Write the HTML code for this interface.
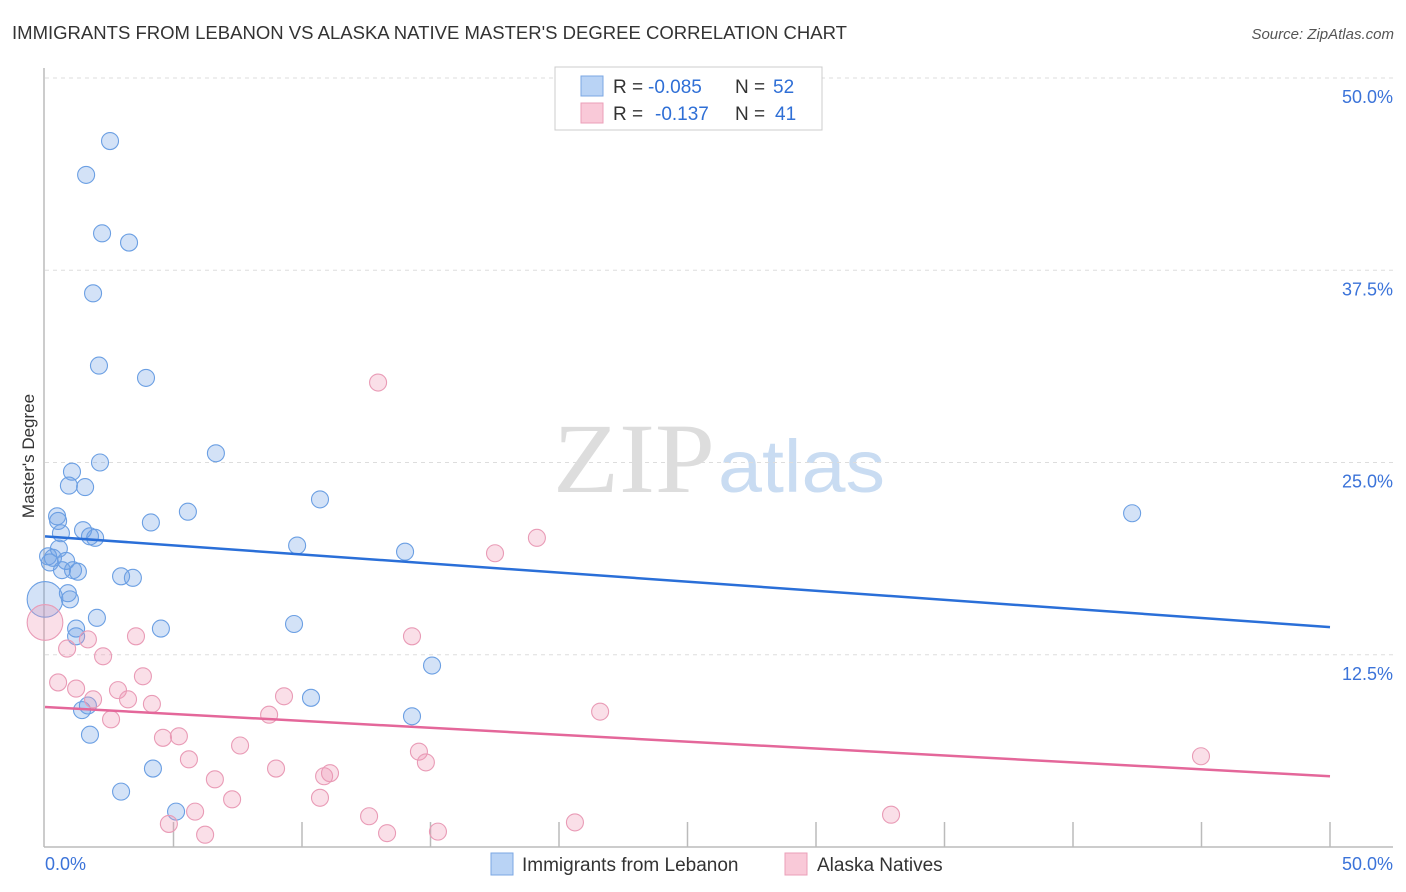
<!DOCTYPE html>
<html><head><meta charset="utf-8"><style>
body{margin:0;background:#fff;font-family:"Liberation Sans",sans-serif;}
#wrap{position:relative;width:1406px;height:892px;overflow:hidden;}
</style></head><body>
<div id="wrap">
<svg id="svg" width="1406" height="892" xmlns="http://www.w3.org/2000/svg">
<text x="12" y="39" font-size="18" fill="#333" textLength="835" lengthAdjust="spacingAndGlyphs">IMMIGRANTS FROM LEBANON VS ALASKA NATIVE MASTER'S DEGREE CORRELATION CHART</text>
<text x="1394" y="39" font-size="15" fill="#555" font-style="italic" text-anchor="end">Source: ZipAtlas.com</text>
<text x="34" y="456" font-size="17" fill="#333" text-anchor="middle" transform="rotate(-90 34 456)">Master's Degree</text>
<g>
<text x="553" y="492" font-size="100" font-family="Liberation Serif,serif" fill="#ddd" textLength="162" lengthAdjust="spacingAndGlyphs">ZIP</text>
<text x="718" y="492" font-size="74" fill="#c9dcf2" textLength="167" lengthAdjust="spacingAndGlyphs">atlas</text>
</g>
<g id="grid"></g><g id="axes"></g><g id="pts"></g><g id="lines"></g>
<g>
<rect x="555" y="67" width="267" height="63" fill="#fff" stroke="#ccc"/>
<rect x="581" y="76" width="22" height="20" fill="#b9d3f5" stroke="#7ba7e3"/>
<rect x="581" y="103" width="22" height="20" fill="#f9c9d8" stroke="#eb9fb8"/>
<g font-size="19">
<text x="613" y="93" fill="#333">R =</text><text x="648" y="93" fill="#2f6fd6">-0.085</text>
<text x="735" y="93" fill="#333">N =</text><text x="773" y="93" fill="#2f6fd6">52</text>
<text x="613" y="120" fill="#333">R =</text><text x="655" y="120" fill="#2f6fd6">-0.137</text>
<text x="735" y="120" fill="#333">N =</text><text x="775" y="120" fill="#2f6fd6">41</text>
</g>
</g>
<g>
<rect x="491" y="853" width="22" height="22" fill="#b9d3f5" stroke="#7ba7e3"/>
<text x="522" y="871" font-size="19" fill="#333">Immigrants from Lebanon</text>
<rect x="785" y="853" width="22" height="22" fill="#f9c9d8" stroke="#eb9fb8"/>
<text x="817" y="871" font-size="19" fill="#333">Alaska Natives</text>
</g>
</svg>
</div>
<script>
const yTicks=[0,12.5,25,37.5,50];
const yTickLabels=["","12.5%","25.0%","37.5%","50.0%"];
const xTicks=[0,5,10,15,20,25,30,35,40,45,50];
const blueX=[2.53,1.60,2.22,3.27,1.87,2.10,3.93,6.65,2.14,1.05,0.93,1.56,5.56,10.70,42.30,0.47,0.51,4.12,1.48,0.62,1.75,1.95,9.81,14.01,0.54,0.12,0.31,0.19,0.82,0.66,1.09,1.28,2.96,3.42,0.89,0.97,2.02,4.51,9.69,1.21,1.21,15.06,10.35,1.44,1.67,14.28,1.75,4.20,2.96,5.10,0];
const blueY=[45.9,43.7,39.9,39.3,36.0,31.3,30.5,25.6,25.0,24.4,23.5,23.4,21.8,22.6,21.7,21.5,21.2,21.1,20.6,20.4,20.2,20.1,19.6,19.2,19.4,18.9,18.8,18.5,18.6,18.0,18.0,17.9,17.6,17.5,16.5,16.1,14.9,14.2,14.5,14.2,13.7,11.8,9.7,8.9,9.2,8.5,7.3,5.1,3.6,2.3,16.1];
const blueSize=[1,1,1,1,1,1,1,1,1,1,1,1,1,1,1,1,1,1,1,1,1,1,1,1,1,1,1,1,1,1,1,1,1,1,1,1,1,1,1,1,1,1,1,1,1,1,1,1,1,1,2];
const pinkX=[12.96,19.14,17.51,0,3.54,14.28,1.67,0.86,2.26,3.81,0.51,1.21,2.84,1.87,3.23,4.16,9.30,21.60,8.72,2.57,4.59,5.21,7.59,14.55,5.60,14.82,8.99,10.86,11.09,6.61,7.28,10.70,5.84,12.61,32.92,20.62,4.82,13.31,15.29,6.23,44.98];
const pinkY=[30.2,20.1,19.1,14.6,13.7,13.7,13.5,12.9,12.4,11.1,10.7,10.3,10.2,9.6,9.6,9.3,9.8,8.8,8.6,8.3,7.1,7.2,6.6,6.2,5.7,5.5,5.1,4.6,4.8,4.4,3.1,3.2,2.3,2.0,2.1,1.6,1.5,0.9,1.0,0.8,5.9];
const pinkSize=[1,1,1,2,1,1,1,1,1,1,1,1,1,1,1,1,1,1,1,1,1,1,1,1,1,1,1,1,1,1,1,1,1,1,1,1,1,1,1,1,1];
const blueTrend=[20.2,14.3];
const pinkTrend=[9.1,4.6];
const NS="http://www.w3.org/2000/svg";
const X0=45,X1=1330,Y0=847,Y1=78;
const sx=v=>X0+(v/50)*(X1-X0);
const sy=v=>Y0-(v/50)*(Y0-Y1);
function mk(tag,attrs,parent){const e=document.createElementNS(NS,tag);for(const k in attrs)e.setAttribute(k,attrs[k]);document.getElementById(parent).appendChild(e);return e;}
yTicks.forEach((t,i)=>{
 if(t>0){const l=mk('line',{x1:X0,x2:1393,y1:sy(t),y2:sy(t),stroke:'#ddd','stroke-dasharray':'4,4'},'grid');
 
 
 const tx=mk('text',{x:1393,y:sy(t)+25,'font-size':18,fill:'#3b73d9','text-anchor':'end'},'grid');tx.textContent=yTickLabels[i];
 
 }
});
const ax=mk('line',{x1:44,x2:44,y1:68,y2:Y0,stroke:'#bbb','stroke-width':1.5},'axes');


const bx=mk('line',{x1:44,x2:1393,y1:Y0,y2:Y0,stroke:'#bbb','stroke-width':1.5},'axes');


xTicks.forEach(t=>{if(t>0){const l=mk('line',{x1:sx(t),x2:sx(t),y1:Y0,y2:Y0-25,stroke:'#bbb','stroke-width':1.5},'axes');
 
 }});
const xl0=mk('text',{x:45,y:870,'font-size':18,fill:'#3b73d9'},'axes');xl0.textContent='0.0%';


const xl1=mk('text',{x:1393,y:870,'font-size':18,fill:'#3b73d9','text-anchor':'end'},'axes');xl1.textContent='50.0%';


blueX.forEach((v,i)=>{const c=mk('circle',{cx:sx(v),cy:sy(blueY[i]),r:8.5*(blueSize[i]===2?2.1:1),fill:'rgba(110,160,230,0.3)',stroke:'#6b9fe3','stroke-width':1.1},'pts');
 
 });
pinkX.forEach((v,i)=>{const c=mk('circle',{cx:sx(v),cy:sy(pinkY[i]),r:8.5*(pinkSize[i]===2?2.1:1),fill:'rgba(240,150,180,0.3)',stroke:'#e99bb6','stroke-width':1.1},'pts');
 
 });
const tb=mk('line',{x1:sx(0),x2:sx(50),y1:sy(blueTrend[0]),y2:sy(blueTrend[1]),stroke:'#2a6fd8','stroke-width':2.5},'lines');


const tp=mk('line',{x1:sx(0),x2:sx(50),y1:sy(pinkTrend[0]),y2:sy(pinkTrend[1]),stroke:'#e4679a','stroke-width':2.5},'lines');


</script>
</body></html>
